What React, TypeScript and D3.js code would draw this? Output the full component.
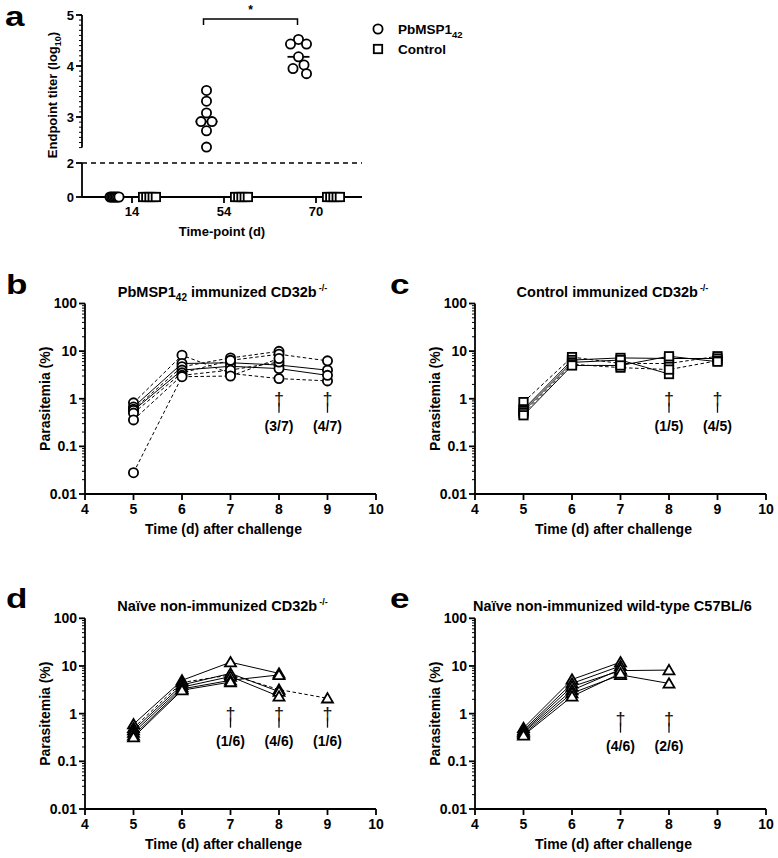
import React from 'react';
import * as d3 from 'd3';

const FONT = '"Liberation Sans", Arial, Helvetica, sans-serif';

// ---------- Panel a data ----------
const titerTimepoints = ['14', '54', '70'];
const pbmspTiterByTimepoint = [
  [0, 0, 0, 0, 0, 0, 0],
  [3.52, 3.31, 3.08, 2.91, 2.91, 2.73, 2.41],
  [4.52, 4.43, 4.43, 4.18, 4.02, 3.95, 3.85],
];
const controlTiterByTimepoint = [
  [0, 0, 0, 0, 0],
  [0, 0, 0, 0, 0],
  [0, 0, 0, 0, 0],
];
const detectionLimit = 2;
const titerTicksUpper = [3, 4, 5];
const titerTicksLower = [0, 2];
const legendLabels = ['PbMSP1', 'Control'];

// ---------- Panels b-e data ----------
const challengeDays = [5, 6, 7, 8, 9];
const dayTicks = [4, 5, 6, 7, 8, 9, 10];
const parasitemiaTicks = [0.01, 0.1, 1, 10, 100];
const parasitemiaTickLabels = ['0.01', '0.1', '1', '10', '100'];

// b: PbMSP1-42 immunized CD32b-/-
const pbmspMice: (number | null)[][] = [
  [0.82, 8.2, 3.4, 2.65, 2.37],
  [0.67, 5.5, 5.7, 5.1, 3.98],
  [0.6, 4.7, 7.2, 9.9, null],
  [0.57, 4.0, 4.8, 4.3, 3.1],
  [0.5, 3.5, 6.4, 8.6, 6.25],
  [0.36, 3.1, 4.0, 5.9, null],
  [0.028, 2.9, 3.0, 7.0, null],
];
const pbmspDashed = [true, false, true, false, true, true, true];
const pbmspDeathDays = [8, 9];
const pbmspDeathLabels = ['(3/7)', '(4/7)'];

// c: Control immunized CD32b-/-
const controlMice: (number | null)[][] = [
  [0.85, 7.5, 5.5, 5.5, 7.8],
  [0.6, 6.5, 7.2, 7.0, 7.0],
  [0.55, 5.8, 6.5, 3.3, null],
  [0.5, 5.3, 4.5, 4.1, 6.3],
  [0.45, 5.0, 5.0, 7.8, 6.0],
];
const controlDashed = [true, false, false, true, false];
const controlDeathDays = [8, 9];
const controlDeathLabels = ['(1/5)', '(4/5)'];

// d: Naive non-immunized CD32b-/-
const naiveKoMice: (number | null)[][] = [
  [0.6, 5.0, 12, 7.0, null],
  [0.5, 4.5, 6.5, 3.2, 2.1],
  [0.45, 4.0, 7.0, 2.9, null],
  [0.4, 3.6, 6.0, 2.3, null],
  [0.35, 3.3, 5.0, 6.5, null],
  [0.32, 3.1, 4.6, null, null],
];
const naiveKoDashed = [false, true, false, false, false, false];
const naiveKoDeathDays = [7, 8, 9];
const naiveKoDeathLabels = ['(1/6)', '(4/6)', '(1/6)'];

// e: Naive non-immunized wild-type C57BL/6
const naiveWtMice: (number | null)[][] = [
  [0.5, 5.2, 12, null, null],
  [0.45, 4.3, 10, null, null],
  [0.42, 3.7, 8.0, 8.2, null],
  [0.4, 3.1, 8.5, null, null],
  [0.37, 2.7, 6.5, 4.3, null],
  [0.35, 2.3, 7.0, null, null],
];
const naiveWtDashed = [false, false, false, false, false, false];
const naiveWtDeathDays = [7, 8];
const naiveWtDeathLabels = ['(4/6)', '(2/6)'];

type Marker = 'circle' | 'square' | 'triangle';

function MarkerShape({ type, cx, cy }: { type: Marker; cx: number; cy: number }) {
  const common = { fill: 'white', stroke: 'black', strokeWidth: 1.8 };
  if (type === 'circle') return <circle cx={cx} cy={cy} r={4.6} {...common} />;
  if (type === 'square') return <rect x={cx - 4.2} y={cy - 4.2} width={8.4} height={8.4} {...common} />;
  return <path d={`M${cx},${cy - 5.2}L${cx + 5.5},${cy + 4.2}L${cx - 5.5},${cy + 4.2}Z`} {...common} strokeLinejoin="miter" />;
}

function PanelLetter({ x, y, ch }: { x: number; y: number; ch: string }) {
  return (
    <text transform={`translate(${x},${y}) scale(1.3,1)`} fontSize={27} fontWeight="bold">
      {ch}
    </text>
  );
}

function swarmOffsets(values: number[], ys: (v: number) => number, zeroStep: number) {
  const n = values.length;
  if (values.every((v) => v === 0)) return values.map((_, i) => (i - (n - 1) / 2) * zeroStep);
  const order = values.map((_, i) => i).sort((a, b) => values[b] - values[a]);
  const placed: { x: number; y: number }[] = [];
  const offs = new Array(n).fill(0);
  const cands = [0, 5.5, -5.5, 8, -8, 11, -11, 16.5, -16.5];
  for (const i of order) {
    const py = ys(values[i]);
    let chosen = 0;
    for (const c of cands) {
      if (placed.every((p) => Math.hypot(p.x - c, p.y - py) >= 9)) {
        chosen = c;
        break;
      }
    }
    offs[i] = chosen;
    placed.push({ x: chosen, y: py });
  }
  return offs;
}

function PanelA() {
  const axX = 82;
  const xEnd = 362;
  const x = d3.scalePoint<string>().domain(titerTimepoints).range([86, 362]).padding(0.5);
  const yU = d3.scaleLinear().domain([3, 5]).range([117, 15]);
  const yL = d3.scaleLinear().domain([0, 2]).range([197, 163]);
  const yv = (v: number) => (v >= 2.4 ? yU(v) : yL(v));
  const upperMin = 2.4;
  const minor = d3.range(24, 51).map((k) => k / 10);
  const groupShift = 17.5;
  const xp = (i: number) => (x(titerTimepoints[i]) as number) - groupShift;
  const xc = (i: number) => (x(titerTimepoints[i]) as number) + groupShift;

  return (
    <g>
      <PanelLetter x={5} y={26} ch="a" />
      {/* upper axis segment */}
      <line x1={axX} x2={axX} y1={yU(upperMin)} y2={yU(5)} stroke="black" strokeWidth={1.8} />
      {minor.map((v) => (
        <line key={'mn' + v} x1={axX - 3} x2={axX} y1={yU(v)} y2={yU(v)} stroke="black" strokeWidth={1} />
      ))}
      {titerTicksUpper.map((v) => (
        <g key={'tu' + v}>
          <line x1={axX - 6} x2={axX} y1={yU(v)} y2={yU(v)} stroke="black" strokeWidth={1.8} />
          <text x={axX - 8} y={yU(v)} dy="0.35em" textAnchor="end" fontSize={13}>
            {v}
          </text>
        </g>
      ))}
      {/* lower axis segment */}
      <line x1={axX} x2={axX} y1={yL(0)} y2={yL(2)} stroke="black" strokeWidth={1.8} />
      {titerTicksLower.map((v) => (
        <g key={'tl' + v}>
          <line x1={axX - 6} x2={axX} y1={yL(v)} y2={yL(v)} stroke="black" strokeWidth={1.8} />
          <text x={axX - 8} y={yL(v)} dy="0.35em" textAnchor="end" fontSize={13}>
            {v}
          </text>
        </g>
      ))}
      {/* x axis */}
      <line x1={axX} x2={xEnd} y1={yL(0)} y2={yL(0)} stroke="black" strokeWidth={1.8} />
      {titerTimepoints.map((t) => (
        <g key={'xt' + t}>
          <line x1={x(t)} x2={x(t)} y1={yL(0)} y2={yL(0) + 6} stroke="black" strokeWidth={1.8} />
          <text x={x(t)} y={yL(0) + 19} textAnchor="middle" fontSize={13}>
            {t}
          </text>
        </g>
      ))}
      <line x1={axX} x2={xEnd} y1={yL(detectionLimit)} y2={yL(detectionLimit)} stroke="black" strokeWidth={1.6} strokeDasharray="5,4" />
      <text x={222} y={yL(0) + 39} textAnchor="middle" fontSize={13}>
        Time-point (d)
      </text>
      <text transform={`translate(57,95) rotate(-90)`} textAnchor="middle" fontSize={13}>
        Endpoint titer (log<tspan fontSize={9} dy={4}>10</tspan>
        <tspan dy={-4}>)</tspan>
      </text>
      {/* medians */}
      {pbmspTiterByTimepoint.map((vals, i) => {
        const m = d3.median(vals) as number;
        if (!m) return null;
        return <line key={'md' + i} x1={xp(i) - 11} x2={xp(i) + 11} y1={yv(m)} y2={yv(m)} stroke="black" strokeWidth={1.8} />;
      })}
      {/* points */}
      {controlTiterByTimepoint.map((vals, i) => {
        const offs = swarmOffsets(vals, yv, 3.2);
        return vals.map((v, j) => <MarkerShape key={`c${i}-${j}`} type="square" cx={xc(i) + offs[j]} cy={yv(v)} />);
      })}
      {pbmspTiterByTimepoint.map((vals, i) => {
        const offs = swarmOffsets(vals, yv, 1.5);
        return vals.map((v, j) => <MarkerShape key={`p${i}-${j}`} type="circle" cx={xp(i) + offs[j]} cy={yv(v)} />);
      })}
      {/* significance bracket */}
      <path d={`M${xp(1) - 3},25V19H${xp(2) - 1}V25`} fill="none" stroke="black" strokeWidth={1.5} />
      <text x={(xp(1) + xp(2)) / 2 - 2} y={14} textAnchor="middle" fontSize={12}>
        *
      </text>
      {/* legend */}
      <MarkerShape type="circle" cx={378} cy={29} />
      <MarkerShape type="square" cx={378} cy={49} />
      <text x={398} y={33.5} fontSize={13.5}>
        {legendLabels[0]}
        <tspan fontSize={9.5} dy={4}>42</tspan>
      </text>
      <text x={398} y={53.5} fontSize={13.5}>
        {legendLabels[1]}
      </text>
    </g>
  );
}

function LogPanel(props: {
  x0: number;
  x1: number;
  yTop: number;
  yBot: number;
  letter: string;
  letterX: number;
  title: React.ReactNode;
  mice: (number | null)[][];
  dashed: boolean[];
  marker: Marker;
  deathDays: number[];
  deathLabels: string[];
  deathShift?: number;
}) {
  const { x0, x1, yTop, yBot, letter, letterX, title, mice, dashed, marker, deathDays, deathLabels } = props;
  const ds = props.deathShift || 0;
  const x = d3.scaleLinear().domain([4, 10]).range([x0, x1]);
  const y = d3.scaleLog().domain([0.01, 100]).range([yBot, yTop]);
  const line = d3
    .line<[number, number | null]>()
    .defined((d) => d[1] != null)
    .x((d) => x(d[0]))
    .y((d) => y(d[1] as number));
  const minor: number[] = [];
  for (let e = -2; e < 2; e++) for (let k = 2; k <= 9; k++) minor.push(k * Math.pow(10, e));
  const yMid = (yTop + yBot) / 2;
  return (
    <g>
      <PanelLetter x={letterX} y={yTop - 10} ch={letter} />
      <text x={(x0 + x1) / 2 - 8} y={yTop - 7} textAnchor="middle" fontSize={14.5}>
        {title}
      </text>
      {/* y axis */}
      <line x1={x0} x2={x0} y1={yBot} y2={yTop} stroke="black" strokeWidth={1.8} />
      {minor.map((v) => (
        <line key={'mn' + v} x1={x0 - 3} x2={x0} y1={y(v)} y2={y(v)} stroke="black" strokeWidth={1} />
      ))}
      {parasitemiaTicks.map((v, i) => (
        <g key={'yt' + v}>
          <line x1={x0 - 6} x2={x0} y1={y(v)} y2={y(v)} stroke="black" strokeWidth={1.8} />
          <text x={x0 - 8} y={y(v)} dy="0.35em" textAnchor="end" fontSize={14}>
            {parasitemiaTickLabels[i]}
          </text>
        </g>
      ))}
      <text transform={`translate(${x0 - 35},${yMid}) rotate(-90)`} textAnchor="middle" fontSize={14}>
        Parasitemia (%)
      </text>
      {/* x axis */}
      <line x1={x0} x2={x1} y1={yBot} y2={yBot} stroke="black" strokeWidth={1.8} />
      {dayTicks.map((d) => (
        <g key={'xt' + d}>
          <line x1={x(d)} x2={x(d)} y1={yBot} y2={yBot + 6} stroke="black" strokeWidth={1.8} />
          <text x={x(d)} y={yBot + 20} textAnchor="middle" fontSize={14}>
            {d}
          </text>
        </g>
      ))}
      <text x={(x0 + x1) / 2 - 7} y={yBot + 40} textAnchor="middle" fontSize={14}>
        Time (d) after challenge
      </text>
      {/* lines */}
      {mice.map((m, i) => (
        <path
          key={'l' + i}
          d={line(challengeDays.map((d, j) => [d, m[j]] as [number, number | null])) || ''}
          fill="none"
          stroke="black"
          strokeWidth={1}
          strokeDasharray={dashed[i] ? '3.5,2.5' : undefined}
        />
      ))}
      {/* markers */}
      {mice.map((m, i) =>
        m.map((v, j) => (v == null ? null : <MarkerShape key={`m${i}-${j}`} type={marker} cx={x(challengeDays[j])} cy={y(v)} />))
      )}
      {/* deaths */}
      {deathDays.map((d, i) => (
        <g key={'dd' + d}>
          <text x={x(d)} y={y(1) + 6 + ds} textAnchor="middle" fontSize={18} fontWeight="normal" fill="#111">
            †
          </text>
          <line x1={x(d)} x2={x(d)} y1={y(1) + 4 + ds} y2={y(1) + 14 + ds} stroke="#111" strokeWidth={1.3} />
          <text x={x(d)} y={y(1) + 32 + ds} textAnchor="middle" fontSize={14}>
            {deathLabels[i]}
          </text>
        </g>
      ))}
    </g>
  );
}

const supKO = (
  <tspan fontSize={9} dy={-6} dx={2}>
    -/-
  </tspan>
);

export default function App() {
  return (
    <svg
      width={778}
      height={858}
      style={{ position: 'absolute', left: 0, top: 0, background: 'white' }}
      fontFamily={FONT}
      fontWeight="bold"
    >
      <rect x={0} y={0} width={778} height={858} fill="white" />
      <PanelA />
      <LogPanel
        x0={85}
        x1={376}
        yTop={303.5}
        yBot={494}
        letter="b"
        letterX={6}
        title={
          <>
            PbMSP1<tspan fontSize={10} dy={4}>42</tspan>
            <tspan dy={-4}> immunized CD32b</tspan>
            {supKO}
          </>
        }
        mice={pbmspMice}
        dashed={pbmspDashed}
        marker="circle"
        deathDays={pbmspDeathDays}
        deathLabels={pbmspDeathLabels}
      />
      <LogPanel
        x0={475}
        x1={766}
        yTop={303.5}
        yBot={494}
        letter="c"
        letterX={390}
        title={
          <>
            Control immunized CD32b{supKO}
          </>
        }
        mice={controlMice}
        dashed={controlDashed}
        marker="square"
        deathDays={controlDeathDays}
        deathLabels={controlDeathLabels}
      />
      <LogPanel
        x0={85}
        x1={376}
        yTop={618.3}
        yBot={809}
        letter="d"
        letterX={6}
        title={
          <>
            Naïve non-immunized CD32b{supKO}
          </>
        }
        mice={naiveKoMice}
        dashed={naiveKoDashed}
        marker="triangle"
        deathDays={naiveKoDeathDays}
        deathLabels={naiveKoDeathLabels}
      />
      <LogPanel
        x0={475}
        x1={766}
        yTop={618.3}
        yBot={809}
        letter="e"
        letterX={390}
        title={<>Naïve non-immunized wild-type C57BL/6</>}
        mice={naiveWtMice}
        dashed={naiveWtDashed}
        marker="triangle"
        deathDays={naiveWtDeathDays}
        deathLabels={naiveWtDeathLabels}
        deathShift={5}
      />
    </svg>
  );
}
